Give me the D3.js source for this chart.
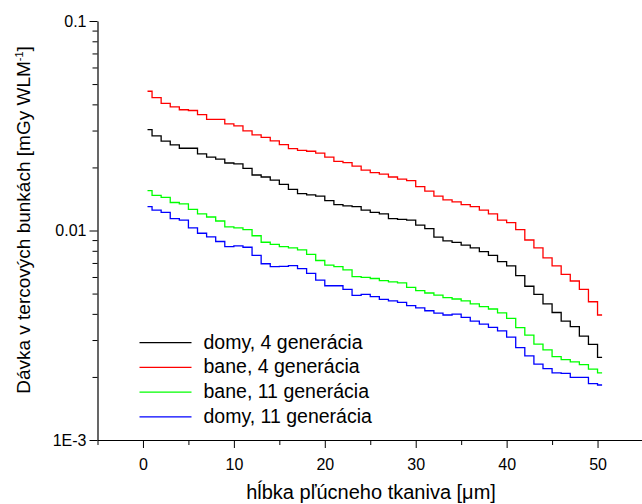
<!DOCTYPE html>
<html>
<head>
<meta charset="utf-8">
<script src="https://cdn.jsdelivr.net/npm/d3@7"></script>
<style>
body { margin: 0; background: #fff; }
text { font-family: "Liberation Sans", Arial, sans-serif; fill: #000; }
</style>
</head>
<body>
<script>
// depth in lung tissue (um), centre of each 1 um bin
var depth = [0.5,1.5,2.5,3.5,4.5,5.5,6.5,7.5,8.5,9.5,10.5,11.5,12.5,13.5,14.5,15.5,16.5,17.5,18.5,19.5,
  20.5,21.5,22.5,23.5,24.5,25.5,26.5,27.5,28.5,29.5,30.5,31.5,32.5,33.5,34.5,35.5,36.5,37.5,38.5,39.5,
  40.5,41.5,42.5,43.5,44.5,45.5,46.5,47.5,48.5,49.5,50.5];

var domy4 = [0.0303,0.0283,0.0267,0.0256,0.0247,0.0247,0.0232,0.0224,0.0219,0.0210,
  0.0208,0.0198,0.0184,0.0180,0.0174,0.0166,0.0157,0.0150,0.0148,0.0146,
  0.0139,0.0133,0.0131,0.0130,0.0125,0.0122,0.0120,0.0114,0.0113,0.0112,
  0.0106,0.0102,0.00930,0.00893,0.00878,0.00851,0.00826,0.00793,0.00760,0.00711,
  0.00678,0.00609,0.00542,0.00496,0.00446,0.00406,0.00369,0.00348,0.00313,0.00286,
  0.00248];
var bane4 = [0.0462,0.0431,0.0404,0.0389,0.0377,0.0374,0.0357,0.0339,0.0339,0.0323,
  0.0316,0.0299,0.0286,0.0278,0.0268,0.0257,0.0246,0.0241,0.0239,0.0234,
  0.0224,0.0214,0.0211,0.0203,0.0194,0.0189,0.0186,0.0180,0.0176,0.0173,
  0.0162,0.0154,0.0146,0.0140,0.0137,0.0133,0.0130,0.0125,0.0120,0.0112,
  0.0109,0.0101,0.00901,0.00826,0.00740,0.00678,0.00618,0.00574,0.00524,0.00457,
  0.00395];
var bane11 = [0.0155,0.0147,0.0144,0.0136,0.0134,0.0126,0.0120,0.0116,0.0111,0.0104,
  0.0103,0.0101,0.00944,0.00879,0.00859,0.00838,0.00827,0.00808,0.00769,0.00719,
  0.00684,0.00673,0.00649,0.00602,0.00597,0.00590,0.00576,0.00568,0.00562,0.00535,
  0.00516,0.00503,0.00491,0.00478,0.00471,0.00461,0.00446,0.00433,0.00422,0.00404,
  0.00381,0.00344,0.00317,0.00287,0.00269,0.00250,0.00242,0.00236,0.00229,0.00218,
  0.00209];
var domy11 = [0.0130,0.0125,0.0122,0.0114,0.0112,0.0103,0.00970,0.00933,0.00886,0.00838,
  0.00845,0.00832,0.00761,0.00694,0.00673,0.00674,0.00679,0.00658,0.00624,0.00580,
  0.00545,0.00545,0.00524,0.00490,0.00496,0.00484,0.00469,0.00461,0.00454,0.00438,
  0.00427,0.00414,0.00403,0.00395,0.00399,0.00385,0.00369,0.00357,0.00345,0.00332,
  0.00310,0.00276,0.00252,0.00230,0.00219,0.00209,0.00208,0.00199,0.00199,0.00186,
  0.00183];

var seriesNames = ["domy, 4 generácia", "bane, 4 generácia", "bane, 11 generácia", "domy, 11 generácia"];
var seriesColors = ["#000000", "#ff0000", "#00ff00", "#0000ff"];

var xTicks = [0, 10, 20, 30, 40, 50];
var xMinor = [-5, 5, 15, 25, 35, 45, 55];
var yTicks = [0.1, 0.01, 0.001];
var yTickLabels = ["0.1", "0.01", "1E-3"];

var w = 642, h = 504;

var svg = d3.select("body").append("svg")
  .attr("width", w)
  .attr("height", h);

var x = d3.scaleLinear().domain([-5, 55]).range([97.5, 643]);
var y = d3.scaleLog().domain([0.001, 0.1]).range([440, 21]);

// y axis, minor ticks first, then majors with labels
svg.append("g")
  .attr("transform", "translate(97.5,0)")
  .call(d3.axisLeft(y).tickValues(y.ticks().filter(d => yTicks.indexOf(d) < 0))
    .tickSize(5).tickSizeOuter(0).tickFormat(""))
  .call(g => g.select(".domain").remove());

svg.append("g")
  .attr("transform", "translate(97.5,0)")
  .call(d3.axisLeft(y).tickValues(yTicks).tickSize(8).tickSizeOuter(0)
    .tickPadding(3)
    .tickFormat((d, i) => yTickLabels[i]))
  .call(g => g.selectAll("text").attr("font-size", 16).attr("font-family", null))
  .call(g => g.select(".domain").attr("stroke-width", 1.2));

// x axis
svg.append("g")
  .attr("transform", "translate(0,440)")
  .call(d3.axisBottom(x).tickValues(xMinor).tickSize(5).tickSizeOuter(0).tickFormat(""))
  .call(g => g.select(".domain").remove());

svg.append("g")
  .attr("transform", "translate(0,440)")
  .call(d3.axisBottom(x).tickValues(xTicks).tickSize(8).tickSizeOuter(0).tickPadding(11))
  .call(g => g.selectAll("text").attr("font-size", 16).attr("font-family", null))
  .call(g => g.select(".domain").attr("stroke-width", 1.2));

// axis titles
svg.append("text")
  .attr("x", 371)
  .attr("y", 499)
  .attr("text-anchor", "middle")
  .attr("font-size", 20)
  .text("hĺbka pľúcneho tkaniva [μm]");

var yt = svg.append("text")
  .attr("transform", "translate(30,220) rotate(-90)")
  .attr("text-anchor", "middle")
  .attr("font-size", 19);
yt.append("tspan").text("Dávka v tercových bunkách [mGy WLM");
yt.append("tspan").attr("font-size", 11).attr("dy", -7).text("-1");
yt.append("tspan").attr("dy", 7).text("]");

// step curves
var line = d3.line()
  .x((d, i) => x(depth[i]))
  .y(d => y(d))
  .curve(d3.curveStep);

var allSeries = [domy4, bane4, bane11, domy11];

svg.append("g")
  .selectAll("path")
  .data(allSeries)
  .join("path")
  .attr("fill", "none")
  .attr("stroke", (d, i) => seriesColors[i])
  .attr("stroke-width", 1.3)
  .attr("d", line);

// legend
var legend = svg.append("g")
  .selectAll("g")
  .data(seriesNames)
  .join("g")
  .attr("transform", (d, i) => `translate(139.5,${342.7 + i * 24.7})`);

legend.append("line")
  .attr("x1", 0)
  .attr("x2", 52)
  .attr("stroke", (d, i) => seriesColors[i])
  .attr("stroke-width", 1.3);

legend.append("text")
  .attr("x", 64)
  .attr("y", 6)
  .attr("font-size", 19.5)
  .text(d => d);
</script>
</body>
</html>
